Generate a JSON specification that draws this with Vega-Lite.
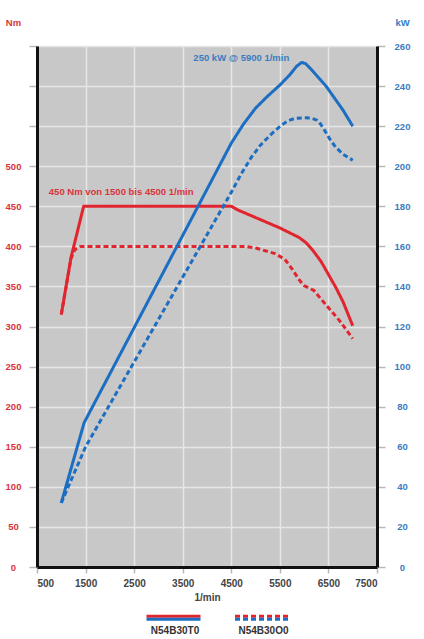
{
  "$schema": "https://vega.github.io/schema/vega-lite/v6.json",
  "width": 340,
  "height": 521,
  "autosize": {"type": "none"},
  "padding": {"left": 37, "top": 46, "right": 47, "bottom": 72},
  "background": "white",
  "datasets": {
    "curves": [
      {"rpm": 1000, "v": 315, "q": "Nm", "e": "N54B30T0"},
      {"rpm": 1200, "v": 386, "q": "Nm", "e": "N54B30T0"},
      {"rpm": 1460, "v": 450, "q": "Nm", "e": "N54B30T0"},
      {"rpm": 4500, "v": 450, "q": "Nm", "e": "N54B30T0"},
      {"rpm": 4650, "v": 445, "q": "Nm", "e": "N54B30T0"},
      {"rpm": 5000, "v": 436, "q": "Nm", "e": "N54B30T0"},
      {"rpm": 5500, "v": 423, "q": "Nm", "e": "N54B30T0"},
      {"rpm": 5900, "v": 411, "q": "Nm", "e": "N54B30T0"},
      {"rpm": 6050, "v": 404, "q": "Nm", "e": "N54B30T0"},
      {"rpm": 6180, "v": 395, "q": "Nm", "e": "N54B30T0"},
      {"rpm": 6350, "v": 381, "q": "Nm", "e": "N54B30T0"},
      {"rpm": 6500, "v": 365, "q": "Nm", "e": "N54B30T0"},
      {"rpm": 6650, "v": 349, "q": "Nm", "e": "N54B30T0"},
      {"rpm": 6800, "v": 331, "q": "Nm", "e": "N54B30T0"},
      {"rpm": 7000, "v": 301, "q": "Nm", "e": "N54B30T0"},
      {"rpm": 1000, "v": 315, "q": "Nm", "e": "N54B30O0"},
      {"rpm": 1200, "v": 385, "q": "Nm", "e": "N54B30O0"},
      {"rpm": 1280, "v": 396, "q": "Nm", "e": "N54B30O0"},
      {"rpm": 1400, "v": 400, "q": "Nm", "e": "N54B30O0"},
      {"rpm": 4800, "v": 400, "q": "Nm", "e": "N54B30O0"},
      {"rpm": 5000, "v": 398, "q": "Nm", "e": "N54B30O0"},
      {"rpm": 5400, "v": 391, "q": "Nm", "e": "N54B30O0"},
      {"rpm": 5600, "v": 384, "q": "Nm", "e": "N54B30O0"},
      {"rpm": 5750, "v": 372, "q": "Nm", "e": "N54B30O0"},
      {"rpm": 5900, "v": 358, "q": "Nm", "e": "N54B30O0"},
      {"rpm": 6000, "v": 351, "q": "Nm", "e": "N54B30O0"},
      {"rpm": 6200, "v": 345, "q": "Nm", "e": "N54B30O0"},
      {"rpm": 6450, "v": 327, "q": "Nm", "e": "N54B30O0"},
      {"rpm": 6720, "v": 308, "q": "Nm", "e": "N54B30O0"},
      {"rpm": 7000, "v": 285, "q": "Nm", "e": "N54B30O0"},
      {"rpm": 1000, "v": 32, "q": "kW", "e": "N54B30T0"},
      {"rpm": 1470, "v": 72, "q": "kW", "e": "N54B30T0"},
      {"rpm": 4500, "v": 211.5, "q": "kW", "e": "N54B30T0"},
      {"rpm": 4750, "v": 221, "q": "kW", "e": "N54B30T0"},
      {"rpm": 5000, "v": 229, "q": "kW", "e": "N54B30T0"},
      {"rpm": 5250, "v": 235, "q": "kW", "e": "N54B30T0"},
      {"rpm": 5500, "v": 240.5, "q": "kW", "e": "N54B30T0"},
      {"rpm": 5700, "v": 245.5, "q": "kW", "e": "N54B30T0"},
      {"rpm": 5850, "v": 250, "q": "kW", "e": "N54B30T0"},
      {"rpm": 5950, "v": 251.8, "q": "kW", "e": "N54B30T0"},
      {"rpm": 6030, "v": 251.2, "q": "kW", "e": "N54B30T0"},
      {"rpm": 6120, "v": 249, "q": "kW", "e": "N54B30T0"},
      {"rpm": 6450, "v": 240, "q": "kW", "e": "N54B30T0"},
      {"rpm": 6800, "v": 228, "q": "kW", "e": "N54B30T0"},
      {"rpm": 7000, "v": 220, "q": "kW", "e": "N54B30T0"},
      {"rpm": 1000, "v": 32, "q": "kW", "e": "N54B30O0"},
      {"rpm": 1500, "v": 60, "q": "kW", "e": "N54B30O0"},
      {"rpm": 4500, "v": 187, "q": "kW", "e": "N54B30O0"},
      {"rpm": 4700, "v": 196, "q": "kW", "e": "N54B30O0"},
      {"rpm": 4900, "v": 204, "q": "kW", "e": "N54B30O0"},
      {"rpm": 5100, "v": 210.5, "q": "kW", "e": "N54B30O0"},
      {"rpm": 5300, "v": 215.5, "q": "kW", "e": "N54B30O0"},
      {"rpm": 5500, "v": 219.8, "q": "kW", "e": "N54B30O0"},
      {"rpm": 5650, "v": 222.5, "q": "kW", "e": "N54B30O0"},
      {"rpm": 5800, "v": 223.8, "q": "kW", "e": "N54B30O0"},
      {"rpm": 6000, "v": 224.2, "q": "kW", "e": "N54B30O0"},
      {"rpm": 6150, "v": 224, "q": "kW", "e": "N54B30O0"},
      {"rpm": 6260, "v": 223, "q": "kW", "e": "N54B30O0"},
      {"rpm": 6340, "v": 221, "q": "kW", "e": "N54B30O0"},
      {"rpm": 6420, "v": 218, "q": "kW", "e": "N54B30O0"},
      {"rpm": 6530, "v": 213.5, "q": "kW", "e": "N54B30O0"},
      {"rpm": 6650, "v": 209.5, "q": "kW", "e": "N54B30O0"},
      {"rpm": 6800, "v": 206, "q": "kW", "e": "N54B30O0"},
      {"rpm": 7000, "v": 203, "q": "kW", "e": "N54B30O0"}
    ],
    "notes": [
      {"rpm": 4706, "v": 253.8, "q": "kW", "label": "250 kW @ 5900 1/min"},
      {"rpm": 2233, "v": 468, "q": "Nm", "label": "450 Nm von 1500 bis 4500 1/min"}
    ]
  },
  "encoding": {
    "x": {
      "field": "rpm",
      "type": "quantitative",
      "scale": {"domain": [500, 7500], "nice": false},
      "axis": {
        "values": [500, 1500, 2500, 3500, 4500, 5500, 6500, 7500],
        "format": "d",
        "grid": true,
        "gridColor": "#e6e6e6",
        "gridWidth": 1.5,
        "domainColor": "#111111",
        "domainWidth": 3,
        "tickColor": "#b8b8b8",
        "tickWidth": 1.5,
        "tickSize": 6,
        "labelColor": "#444444",
        "labelFontSize": 10,
        "labelFontWeight": "bold",
        "labelPadding": 5,
        "title": "1/min",
        "titleColor": "#444444",
        "titleFontSize": 10,
        "titleFontWeight": "bold",
        "titlePadding": 4
      }
    }
  },
  "layer": [
    {
      "encoding": {
        "y": {
          "field": "v",
          "type": "quantitative",
          "scale": {"domain": [0, 650], "nice": false},
          "axis": {
            "orient": "left",
            "values": [0, 50, 100, 150, 200, 250, 300, 350, 400, 450, 500, 550, 600, 650],
            "labelExpr": "datum.value > 500 ? '' : datum.label",
            "grid": true,
            "gridColor": "#e6e6e6",
            "gridWidth": 1.5,
            "domainColor": "#111111",
            "domainWidth": 3,
            "tickColor": "#b8b8b8",
            "tickWidth": 1.5,
            "tickSize": 8,
            "labelColor": "#d9343c",
            "labelFontSize": 9.5,
            "labelFontWeight": "bold",
            "labelAlign": "center",
            "labelBaseline": "middle",
            "labelPadding": 16,
            "title": "Nm",
            "titleAngle": 0,
            "titleX": -24,
            "titleY": -24,
            "titleAlign": "center",
            "titleBaseline": "middle",
            "titleColor": "#d9343c",
            "titleFontSize": 9.5,
            "titleFontWeight": "bold"
          }
        }
      },
      "layer": [
        {
          "data": {"name": "curves"},
          "transform": [{"filter": "datum.q === 'Nm'"}],
          "mark": {"type": "line", "color": "#e0252e", "strokeWidth": 3, "interpolate": "linear", "strokeJoin": "round"},
          "encoding": {
            "strokeDash": {
              "field": "e",
              "type": "nominal",
              "scale": {"domain": ["N54B30T0", "N54B30O0"], "range": [[1, 0], [5, 3]]},
              "legend": {
                "orient": "none",
                "direction": "horizontal",
                "legendX": 108,
                "legendY": 556,
                "padding": 0,
                "title": null,
                "symbolType": "M-1,-0.54H1",
                "symbolSize": 2916,
                "symbolStrokeWidth": 3,
                "symbolStrokeColor": "#e0252e",
                "columnPadding": 21.5,
                "labelAlign": "center",
                "labelOffset": -27,
                "labelColor": "#333333",
                "labelFontSize": 10,
                "labelFontWeight": "bold"
              }
            }
          }
        },
        {
          "data": {"name": "notes"},
          "transform": [{"filter": "datum.q === 'Nm'"}],
          "mark": {"type": "text", "color": "#d9343c", "fontSize": 9.5, "fontWeight": "bold", "align": "center", "baseline": "middle"},
          "encoding": {"text": {"field": "label"}}
        }
      ]
    },
    {
      "encoding": {
        "y": {
          "field": "v",
          "type": "quantitative",
          "scale": {"domain": [0, 260], "nice": false},
          "axis": {
            "orient": "right",
            "values": [0, 20, 40, 60, 80, 100, 120, 140, 160, 180, 200, 220, 240, 260],
            "grid": false,
            "domainColor": "#111111",
            "domainWidth": 3,
            "tickColor": "#b8b8b8",
            "tickWidth": 1.5,
            "tickSize": 8,
            "labelColor": "#3a7cc2",
            "labelFontSize": 9.5,
            "labelFontWeight": "bold",
            "labelAlign": "center",
            "labelBaseline": "middle",
            "labelPadding": 17,
            "title": "kW",
            "titleAngle": 0,
            "titleX": 25,
            "titleY": -24,
            "titleAlign": "center",
            "titleBaseline": "middle",
            "titleColor": "#3a7cc2",
            "titleFontSize": 9.5,
            "titleFontWeight": "bold"
          }
        }
      },
      "layer": [
        {
          "data": {"name": "curves"},
          "transform": [{"filter": "datum.q === 'kW'"}],
          "mark": {"type": "line", "color": "#1b6ec2", "strokeWidth": 3, "interpolate": "linear", "strokeJoin": "round"},
          "encoding": {
            "strokeDash": {
              "field": "e",
              "type": "nominal",
              "scale": {"domain": ["N54B30T0", "N54B30O0"], "range": [[1, 0], [5, 3]]},
              "legend": {
                "orient": "none",
                "direction": "horizontal",
                "legendX": 108,
                "legendY": 556,
                "padding": 0,
                "title": null,
                "symbolType": "M-1,-0.43H1",
                "symbolSize": 2916,
                "symbolStrokeWidth": 3,
                "symbolStrokeColor": "#1b6ec2",
                "columnPadding": 21.5,
                "labelAlign": "center",
                "labelOffset": -27,
                "labelOpacity": 0,
                "labelFontSize": 10,
                "labelFontWeight": "bold"
              }
            }
          }
        },
        {
          "data": {"name": "notes"},
          "transform": [{"filter": "datum.q === 'kW'"}],
          "mark": {"type": "text", "color": "#3a7cc2", "fontSize": 9.5, "fontWeight": "bold", "align": "center", "baseline": "middle"},
          "encoding": {"text": {"field": "label"}}
        }
      ]
    }
  ],
  "resolve": {
    "scale": {"y": "independent", "strokeDash": "independent"},
    "legend": {"strokeDash": "independent"}
  },
  "config": {
    "font": "Liberation Sans",
    "view": {"fill": "#c8c8c8", "stroke": null}
  }
}
